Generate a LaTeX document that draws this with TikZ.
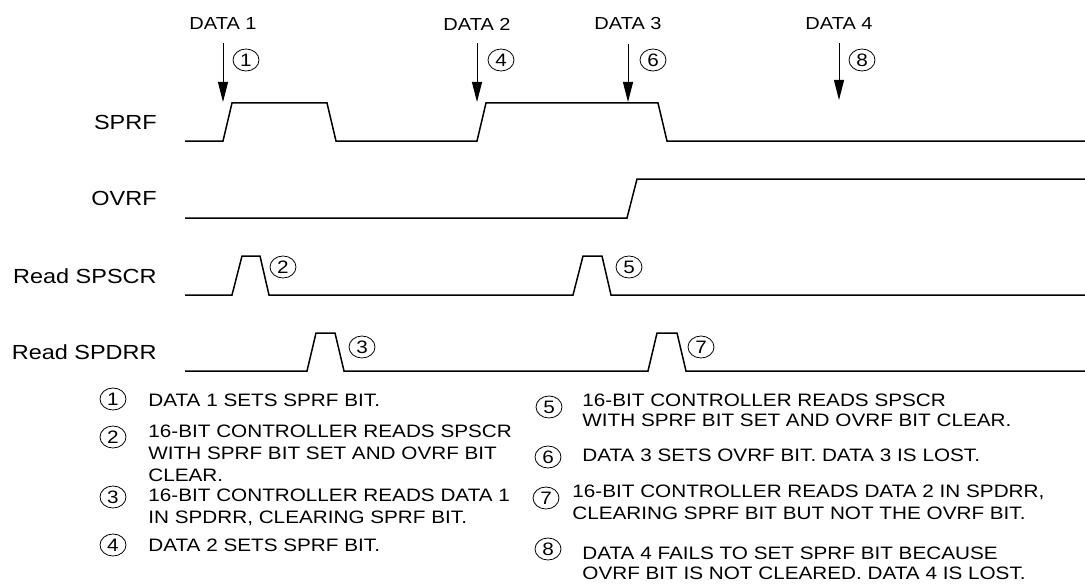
\documentclass[tikz,border=0pt]{standalone}
\usepackage{fontspec}
\setmainfont{Liberation Sans}[FakeStretch=1.15]
\usetikzlibrary{arrows.meta,shapes.geometric}
\tikzset{
  wave/.style={line width=0.75pt},
  dataarrow/.style={-{Triangle[length=10pt,width=5pt]}, line width=0.5pt, shorten <=6.5pt},
  num/.style={draw, ellipse, line width=0.4pt, inner sep=0pt, minimum width=13pt, minimum height=11pt, font=\fontsize{9}{9}\selectfont},
  datalabel/.style={inner sep=0pt, font=\fontsize{8.7}{10}\selectfont},
  siglabel/.style={anchor=east, inner sep=0pt, font=\fontsize{10.2}{12}\selectfont},
  note/.style={anchor=west, inner sep=0pt, align=left, font=\fontsize{9}{11}\selectfont},
}

\begin{document}
\begin{tikzpicture}[x=0.5pt, y=-0.5pt]
\useasboundingbox (0,0) rectangle (1085,583);

% Signal names
\node[siglabel] (sprf) at (157,122) {SPRF};
\node[siglabel] (ovrf) at (157,198) {OVRF};
\node[siglabel] (rdscr) at (157,276) {Read SPSCR};
\node[siglabel] (rddrr) at (157,352) {Read SPDRR};

% SPRF
\draw[wave] (185,141) -- (223,141) -- (232,103) -- (327,103) -- (336,141)
  -- (477,141) -- (486,103) -- (658,103) -- (667,141) -- (1085,141);

% OVRF
\draw[wave] (185,218) -- (627,218) -- (637,179) -- (1085,179);

% Read SPSCR (two short pulses)
\draw[wave] (185,295) -- (232,295) -- (242,256) -- (260,256) -- (269,295)
  -- (573,295) -- (583,256) -- (602,256) -- (611,295) -- (1085,295);

% Read SPDRR (two short pulses)
\draw[wave] (185,371) -- (307,371) -- (316,333) -- (335,333) -- (344,371)
  -- (648,371) -- (657,333) -- (677,333) -- (686,371) -- (1085,371);

% Data arriving
\node[datalabel] (d1) at (223,24) {DATA 1};
\node[datalabel] (d2) at (477,24) {DATA 2};
\node[datalabel] (d3) at (628,24) {DATA 3};
\node[datalabel] (d4) at (839,24) {DATA 4};
\coordinate (t1) at (223,102);
\coordinate (t2) at (477,102);
\coordinate (t3) at (628,102);
\coordinate (t4) at (839,100);
\draw[dataarrow] (d1.south) -- (t1);
\draw[dataarrow] (d2.south) -- (t2);
\draw[dataarrow] (d3.south) -- (t3);
\draw[dataarrow] (d4.south) -- (t4);

% Step numbers on the timing
\node[num] (s1) at (246,60) {1};
\node[num] (s4) at (501,60) {4};
\node[num] (s6) at (653,60) {6};
\node[num] (s8) at (862,60) {8};
\node[num] (s2) at (283,267) {2};
\node[num] (s5) at (629,267) {5};
\node[num] (s3) at (362,347) {3};
\node[num] (s7) at (701,347) {7};

% Legend, left column
\node[num] (k1) at (113,399) {1};
\node[note] (n1) at (148,400) {DATA 1 SETS SPRF BIT.};
\node[num] (k2) at (113,437) {2};
\node[note] (n2) at (148,453) {16-BIT CONTROLLER READS SPSCR\\WITH SPRF BIT SET AND OVRF BIT\\CLEAR.};
\node[num] (k3) at (113,497) {3};
\node[note] (n3) at (148,507) {16-BIT CONTROLLER READS DATA 1\\IN SPDRR, CLEARING SPRF BIT.};
\node[num] (k4) at (113,545) {4};
\node[note] (n4) at (148,545) {DATA 2 SETS SPRF BIT.};

% Legend, right column
\node[num] (k5) at (549,407) {5};
\node[note, font=\fontsize{9}{10.2}\selectfont] (n5) at (582,410) {16-BIT CONTROLLER READS SPSCR\\WITH SPRF BIT SET AND OVRF BIT CLEAR.};
\node[num] (k6) at (548,457) {6};
\node[note] (n6) at (582,455) {DATA 3 SETS OVRF BIT. DATA 3 IS LOST.};
\node[num] (k7) at (546,498) {7};
\node[note] (n7) at (572,502) {16-BIT CONTROLLER READS DATA 2 IN SPDRR,\\CLEARING SPRF BIT BUT NOT THE OVRF BIT.};
\node[num] (k8) at (548,549) {8};
\node[note, font=\fontsize{9}{10.2}\selectfont] (n8) at (582,563) {DATA 4 FAILS TO SET SPRF BIT BECAUSE\\OVRF BIT IS NOT CLEARED. DATA 4 IS LOST.};

\end{tikzpicture}
\end{document}
